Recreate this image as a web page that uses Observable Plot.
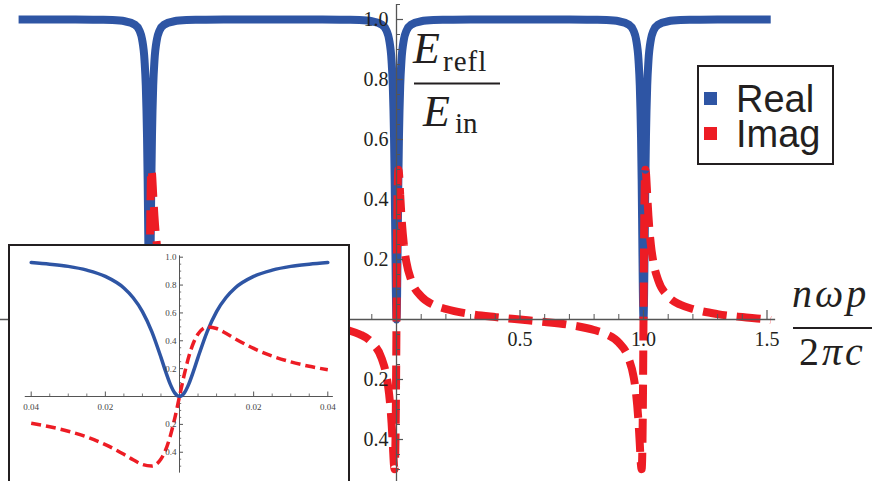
<!DOCTYPE html>
<html>
<head>
<meta charset="utf-8">
<script src="https://cdn.jsdelivr.net/npm/d3@7"></script>
<script src="https://cdn.jsdelivr.net/npm/@observablehq/plot@0.6"></script>
<style>
  html, body { margin: 0; padding: 0; background: #fff; }
  #wrap { position: relative; width: 881px; height: 481px; overflow: hidden; background: #fff; }
  #main, #inset, #overlay { position: absolute; }
  #main { left: 0; top: 0; }
  #insetBox { position: absolute; left: 8px; top: 244px; width: 338px; height: 260px; border: 2px solid #231f20; background: #fff; }
  #inset { left: 10px; top: 246px; }
  #overlay { left: 0; top: 0; pointer-events: none; }
</style>
</head>
<body>
<div id="wrap">
  <div id="main"></div>
  <div id="insetBox"></div>
  <div id="inset"></div>
  <svg id="overlay" width="881" height="481"></svg>
</div>
<script>
// ---------- Main chart data ----------
const mainX = [-1.53, -1.5, -1.4, -1.3, -1.2, -1.15, -1.1, -1.06, -1.04, -1.03, -1.02, -1.015, -1.01, -1.0075, -1.005, -1.0025,
  -1,
  -0.9975, -0.995, -0.9925, -0.99, -0.985, -0.98, -0.97, -0.96, -0.94, -0.9, -0.85, -0.8, -0.7, -0.6, -0.5,
  -0.4, -0.3, -0.2, -0.15, -0.1, -0.06, -0.04, -0.03, -0.02, -0.015, -0.01, -0.0075, -0.005, -0.0025,
  0,
  0.0025, 0.005, 0.0075, 0.01, 0.015, 0.02, 0.03, 0.04, 0.06, 0.1, 0.15, 0.2, 0.3, 0.4, 0.5,
  0.6, 0.7, 0.8, 0.85, 0.9, 0.94, 0.96, 0.97, 0.98, 0.985, 0.99, 0.9925, 0.995, 0.9975,
  1,
  1.0025, 1.005, 1.0075, 1.01, 1.015, 1.02, 1.03, 1.04, 1.06, 1.1, 1.15, 1.2, 1.3, 1.4, 1.5, 1.515];

const mainReal = [1, 1, 1, 1, 0.999, 0.998, 0.994, 0.983, 0.962, 0.934, 0.862, 0.779, 0.610, 0.468, 0.281, 0.089,
  0,
  0.089, 0.281, 0.468, 0.610, 0.779, 0.862, 0.934, 0.962, 0.983, 0.994, 0.998, 0.999, 1, 1, 1,
  1, 1, 0.999, 0.998, 0.994, 0.983, 0.962, 0.934, 0.862, 0.779, 0.610, 0.468, 0.281, 0.089,
  0,
  0.089, 0.281, 0.468, 0.610, 0.779, 0.862, 0.934, 0.962, 0.983, 0.994, 0.998, 0.999, 1, 1, 1,
  1, 1, 0.999, 0.998, 0.994, 0.983, 0.962, 0.934, 0.862, 0.779, 0.610, 0.468, 0.281, 0.089,
  0,
  0.089, 0.281, 0.468, 0.610, 0.779, 0.862, 0.934, 0.962, 0.983, 0.994, 0.998, 0.999, 1, 1, 1, 1];

const mainImag = [0.003, 0, -0.008, -0.018, -0.035, -0.049, -0.077, -0.130, -0.191, -0.248, -0.344, -0.415, -0.488, -0.499, -0.449, -0.285,
  0,
  0.285, 0.449, 0.499, 0.488, 0.415, 0.344, 0.248, 0.191, 0.130, 0.077, 0.049, 0.035, 0.018, 0.008, 0,
  -0.008, -0.018, -0.035, -0.049, -0.077, -0.130, -0.191, -0.248, -0.344, -0.415, -0.488, -0.499, -0.449, -0.285,
  0,
  0.285, 0.449, 0.499, 0.488, 0.415, 0.344, 0.248, 0.191, 0.130, 0.077, 0.049, 0.035, 0.018, 0.008, 0,
  -0.008, -0.018, -0.035, -0.049, -0.077, -0.130, -0.191, -0.248, -0.344, -0.415, -0.488, -0.499, -0.449, -0.285,
  0,
  0.285, 0.449, 0.499, 0.488, 0.415, 0.344, 0.248, 0.191, 0.130, 0.077, 0.049, 0.035, 0.018, 0.008, 0, -0.002];

const mainXTickLabels = ["0.5", "1.0", "1.5"];
const mainXTickValues = [0.5, 1, 1.5];
const mainXMajor = [-1.5, -1, -0.5, 0.5, 1, 1.5];
const mainXMinor = [-1.4, -1.3, -1.2, -1.1, -0.9, -0.8, -0.7, -0.6, -0.4, -0.3, -0.2, -0.1,
  0.1, 0.2, 0.3, 0.4, 0.6, 0.7, 0.8, 0.9, 1.1, 1.2, 1.3, 1.4];
const mainYTickLabels = ["1.0", "0.8", "0.6", "0.4", "0.2", "0.2", "0.4"];
const mainYTickValues = [1, 0.8, 0.6, 0.4, 0.2, -0.2, -0.4];
const mainYMinor = [-0.5, -0.45, -0.35, -0.3, -0.25, -0.15, -0.1, -0.05, 0.05, 0.1, 0.15, 0.25, 0.3, 0.35,
  0.45, 0.5, 0.55, 0.65, 0.7, 0.75, 0.85, 0.9, 0.95, 1.05];

// ---------- Inset data ----------
const insetX = [-0.04, -0.035, -0.03, -0.025, -0.02, -0.015, -0.0125, -0.01, -0.0075, -0.005, -0.00375, -0.0025, -0.00125,
  0, 0.00125, 0.0025, 0.00375, 0.005, 0.0075, 0.01, 0.0125, 0.015, 0.02, 0.025, 0.03, 0.035, 0.04];
const insetReal = [0.962, 0.950, 0.934, 0.907, 0.862, 0.779, 0.709, 0.610, 0.468, 0.281, 0.180, 0.089, 0.024,
  0, 0.024, 0.089, 0.180, 0.281, 0.468, 0.610, 0.709, 0.779, 0.862, 0.907, 0.934, 0.950, 0.962];
const insetImag = [-0.192, -0.217, -0.249, -0.290, -0.345, -0.415, -0.454, -0.488, -0.499, -0.449, -0.384, -0.285, -0.153,
  0, 0.153, 0.285, 0.384, 0.449, 0.499, 0.488, 0.454, 0.415, 0.345, 0.290, 0.249, 0.217, 0.192];
const insetXTickLabels = ["0.04", "0.02", "0.02", "0.04"];
const insetXTickValues = [-0.04, -0.02, 0.02, 0.04];
const insetXMinor = [-0.035, -0.03, -0.025, -0.015, -0.01, -0.005, 0.005, 0.01, 0.015, 0.025, 0.03, 0.035];
const insetYTickLabels = ["1.0", "0.8", "0.6", "0.4", "0.2", "0.2", "0.4"];
const insetYTickValues = [1, 0.8, 0.6, 0.4, 0.2, -0.2, -0.4];
const insetYMinor = [-0.5, -0.45, -0.35, -0.3, -0.25, -0.15, -0.1, -0.05, 0.05, 0.1, 0.15, 0.25, 0.3, 0.35,
  0.45, 0.5, 0.55, 0.65, 0.7, 0.75, 0.85, 0.9, 0.95];

const seriesNames = ["Real", "Imag"];
const BLUE = "#2E55A4", RED = "#ED1C24", INK = "#231f20", AXIS = "#555";

// ---------- Main plot ----------
const mainData = mainX.map((x, i) => ({x, re: mainReal[i], im: mainImag[i]}));
const pxX = 1 / 247, pxY = 1 / 300; // data units per pixel
const serif = "'Liberation Serif', 'Times New Roman', serif";

const main = Plot.plot({
  width: 881, height: 481, margin: 0,
  x: {domain: [-396 / 247, 485 / 247], axis: null},
  y: {domain: [-162 / 300, 319 / 300], axis: null},
  style: {background: "transparent", overflow: "visible"},
  marks: [
    Plot.line(mainData, {x: "x", y: "re", stroke: BLUE, strokeWidth: 8, strokeLinecap: "butt", curve: "monotone-x"}),
    Plot.line(mainData, {x: "x", y: "im", stroke: RED, strokeWidth: 8, strokeDasharray: "24,10",
      strokeLinecap: "butt", strokeLinejoin: "miter", curve: "monotone-x"}),
    Plot.ruleY([0], {x1: -396 / 247, x2: 1.535, stroke: AXIS, strokeWidth: 1.3}),
    Plot.ruleX([0], {y1: -0.54, y2: 1.05, stroke: AXIS, strokeWidth: 1.3}),
    Plot.ruleX(mainXMajor, {x: d => d, y1: 0, y2: 9 * pxY, stroke: AXIS, strokeWidth: 1.2}),
    Plot.ruleX(mainXMinor, {x: d => d, y1: 0, y2: 5 * pxY, stroke: AXIS, strokeWidth: 1}),
    Plot.ruleY(mainYTickValues, {y: d => d, x1: 0, x2: 7 * pxX, stroke: AXIS, strokeWidth: 1.2}),
    Plot.ruleY(mainYMinor, {y: d => d, x1: 0, x2: 4 * pxX, stroke: AXIS, strokeWidth: 1}),
    Plot.text(mainXTickValues, {x: d => d, y: 0, text: (d, i) => mainXTickLabels[i], dy: 20,
      fontFamily: serif, fontSize: 20, fill: INK}),
    Plot.text(mainYTickValues, {x: 0, y: d => d, text: (d, i) => mainYTickLabels[i], dx: -8, textAnchor: "end",
      fontFamily: serif, fontSize: 20, fill: INK})
  ]
});
document.getElementById("main").appendChild(main);

// ---------- Inset plot ----------
const insetData = insetX.map((x, i) => ({x, re: insetReal[i], im: insetImag[i]}));
const ipxX = 1 / 3706, ipxY = 1 / 139.3;
const inset = Plot.plot({
  width: 338, height: 235,
  marginLeft: 20.7, marginRight: 20.7, marginTop: 10.7, marginBottom: 1.4,
  x: {domain: [-0.04, 0.04], axis: null},
  y: {domain: [-0.6, 1.0], axis: null},
  style: {background: "transparent", overflow: "visible"},
  marks: [
    Plot.ruleY([0], {x1: -0.0416, x2: 0.0415, stroke: AXIS, strokeWidth: 1}),
    Plot.ruleX([0], {y1: -0.55, y2: 1.01, stroke: AXIS, strokeWidth: 1}),
    Plot.ruleX(insetXTickValues, {x: d => d, y1: 0, y2: 4.5 * ipxY, stroke: AXIS, strokeWidth: 1}),
    Plot.ruleX(insetXMinor, {x: d => d, y1: 0, y2: 2.5 * ipxY, stroke: AXIS, strokeWidth: 0.8}),
    Plot.ruleY(insetYTickValues, {y: d => d, x1: 0, x2: 4 * ipxX, stroke: AXIS, strokeWidth: 1}),
    Plot.ruleY(insetYMinor, {y: d => d, x1: 0, x2: 2.2 * ipxX, stroke: AXIS, strokeWidth: 0.8}),
    Plot.line(insetData, {x: "x", y: "re", stroke: BLUE, strokeWidth: 3.5, curve: "monotone-x"}),
    Plot.line(insetData, {x: "x", y: "im", stroke: RED, strokeWidth: 3.5, strokeDasharray: "10,5",
      strokeLinecap: "butt", curve: "monotone-x"}),
    Plot.text(insetXTickValues, {x: d => d, y: 0, text: (d, i) => insetXTickLabels[i], dy: 11,
      fontFamily: serif, fontSize: 9, fill: "#444"}),
    Plot.text(insetYTickValues, {x: 0, y: d => d, text: (d, i) => insetYTickLabels[i], dx: -3, textAnchor: "end",
      fontFamily: serif, fontSize: 9, fill: "#444"})
  ]
});
document.getElementById("inset").appendChild(inset);

// ---------- Overlay: axis captions and legend ----------
const ov = d3.select("#overlay");
const sans = "'Liberation Sans', Arial, Helvetica, sans-serif";

// E_refl / E_in
ov.append("text").attr("x", 413).attr("y", 63).attr("font-family", serif).attr("font-style", "italic")
  .attr("font-size", 44).attr("fill", INK).text("E");
ov.append("text").attr("x", 443).attr("y", 71).attr("font-family", serif)
  .attr("font-size", 29).attr("letter-spacing", 1).attr("fill", INK).text("refl");
ov.append("line").attr("x1", 414).attr("x2", 500).attr("y1", 83.5).attr("y2", 83.5)
  .attr("stroke", INK).attr("stroke-width", 2);
ov.append("text").attr("x", 423).attr("y", 126).attr("font-family", serif).attr("font-style", "italic")
  .attr("font-size", 44).attr("fill", INK).text("E");
ov.append("text").attr("x", 455).attr("y", 133).attr("font-family", serif)
  .attr("font-size", 29).attr("fill", INK).text("in");

// nωp / 2πc
ov.append("text").attr("x", 792).attr("y", 307).attr("font-family", serif).attr("font-style", "italic")
  .attr("font-size", 40).attr("letter-spacing", 3).attr("fill", INK).text("nωp");
ov.append("line").attr("x1", 793).attr("x2", 872).attr("y1", 328).attr("y2", 328)
  .attr("stroke", INK).attr("stroke-width", 2);
const den = ov.append("text").attr("x", 799).attr("y", 365).attr("font-family", serif)
  .attr("font-size", 40).attr("letter-spacing", 3).attr("fill", INK);
den.append("tspan").text("2");
den.append("tspan").attr("font-style", "italic").text("πc");

// Legend
ov.append("rect").attr("x", 698).attr("y", 66).attr("width", 135).attr("height", 98)
  .attr("fill", "#fff").attr("stroke", INK).attr("stroke-width", 2);
const legColors = [BLUE, RED];
const legY = [112, 147];
seriesNames.forEach((name, i) => {
  ov.append("rect").attr("x", 704).attr("y", legY[i] - 20).attr("width", 13).attr("height", 13).attr("fill", legColors[i]);
  ov.append("text").attr("x", 736).attr("y", legY[i]).attr("font-family", sans).attr("font-size", 38)
    .attr("fill", INK).text(name);
});
</script>
</body>
</html>
